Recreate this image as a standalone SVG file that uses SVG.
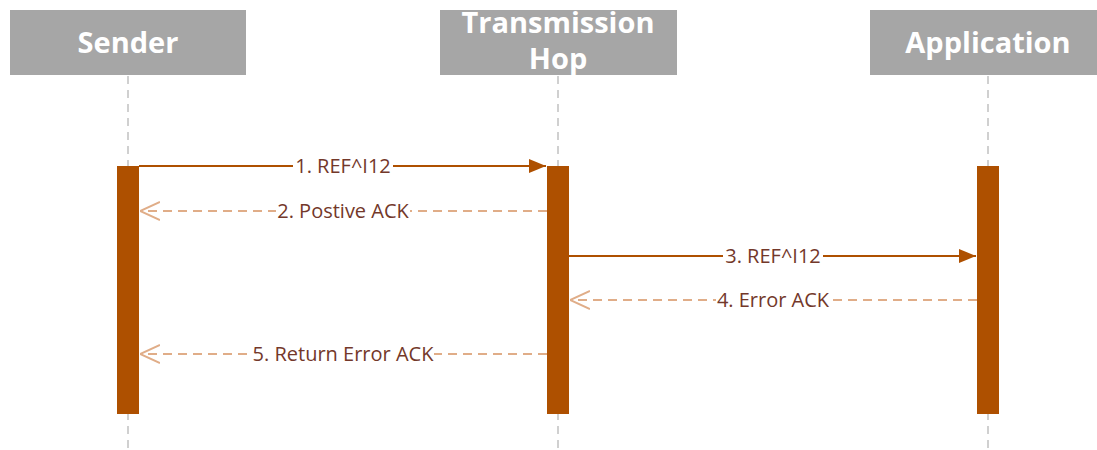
<svg xmlns="http://www.w3.org/2000/svg" width="1097" height="450" viewBox="0 0 1097 450">
<style>
.hdr{fill:#A6A6A6}
.htxt{font-family:"Open Sans","Noto Sans","Liberation Sans",sans-serif;font-weight:bold;font-size:29px;fill:#ffffff;text-anchor:middle}
.life{stroke:#D0D0D0;stroke-width:2;stroke-dasharray:8,6;fill:none}
.bar{fill:#AE5000}
.sync{stroke:#AE5000;stroke-width:2;fill:none}
.ret{stroke:#E0AD88;stroke-width:2;stroke-dasharray:9,6;fill:none}
.lbl{font-family:"Open Sans","Noto Sans","Liberation Sans",sans-serif;font-size:20px;fill:#73382A;text-anchor:middle}
.bg{fill:#ffffff}
</style>
<defs>
<marker id="filled" viewBox="0 0 17 14" refX="17" refY="7" markerWidth="17" markerHeight="14" markerUnits="userSpaceOnUse" orient="auto">
<path d="M0,0 L17,7 L0,14 Z" fill="#AE5000"/>
</marker>
<marker id="open" viewBox="0 0 20 20" refX="20" refY="10" markerWidth="20" markerHeight="20" markerUnits="userSpaceOnUse" orient="auto">
<path d="M0,1 L20,10 L0,19" fill="none" stroke="#E0AD88" stroke-width="2"/>
</marker>
</defs>
<rect width="1097" height="450" fill="#ffffff"/>
<g id="lifelines">
<line class="life" x1="128" y1="76" x2="128" y2="450"/>
<line class="life" x1="558" y1="76" x2="558" y2="450"/>
<line class="life" x1="988" y1="76" x2="988" y2="450"/>
</g>
<g id="sender">
<rect class="hdr" x="10" y="10" width="236" height="65"/>
<text class="htxt" x="128" y="53">Sender</text>
<rect class="bar" x="117" y="166" width="22" height="248"/>
</g>
<g id="hop">
<rect class="hdr" x="440" y="10" width="237" height="65"/>
<text class="htxt" x="558" y="33">Transmission</text>
<text class="htxt" x="558" y="69">Hop</text>
<rect class="bar" x="547" y="166" width="22" height="248"/>
</g>
<g id="application">
<rect class="hdr" x="870" y="10" width="237" height="65"/>
<text class="htxt" x="988" y="53">Application</text>
<rect class="bar" x="977" y="166" width="22" height="248"/>
</g>
<g id="connectors">
<line class="sync" x1="139" y1="166" x2="546" y2="166" marker-end="url(#filled)"/>
<rect class="bg" x="293" y="155" width="100" height="22"/>
<text class="lbl" x="343" y="173">1. REF^I12</text>
<line class="ret" x1="547" y1="211" x2="140" y2="211" marker-end="url(#open)"/>
<rect class="bg" x="276" y="200" width="134" height="22"/>
<text class="lbl" x="343" y="218">2. Postive ACK</text>
<line class="sync" x1="569" y1="256" x2="976" y2="256" marker-end="url(#filled)"/>
<rect class="bg" x="723" y="245" width="100" height="22"/>
<text class="lbl" x="773" y="263">3. REF^I12</text>
<line class="ret" x1="977" y1="300" x2="570" y2="300" marker-end="url(#open)"/>
<rect class="bg" x="716" y="289" width="114" height="22"/>
<text class="lbl" x="773" y="307">4. Error ACK</text>
<line class="ret" x1="547" y1="354" x2="140" y2="354" marker-end="url(#open)"/>
<rect class="bg" x="252" y="343" width="182" height="22"/>
<text class="lbl" x="343" y="361">5. Return Error ACK</text>
</g>
</svg>
